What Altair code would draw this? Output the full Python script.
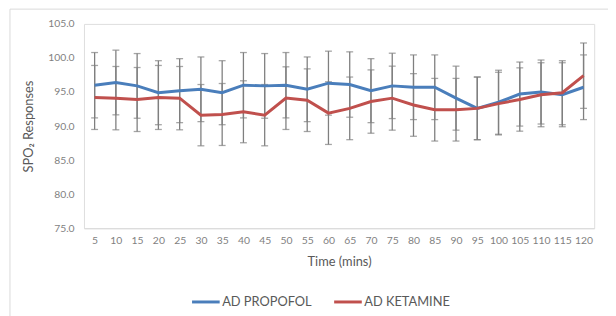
import altair as alt
import pandas as pd

times = [5, 10, 15, 20, 25, 30, 35, 40, 45, 50, 55, 60, 65, 70, 75, 80, 85, 90, 95, 100, 105, 110, 115, 120]
propofol = [96.0, 96.4, 95.9, 94.9, 95.2, 95.4, 94.9, 96.0, 95.9, 96.0, 95.4, 96.3, 96.1, 95.2, 95.9, 95.7,
            95.7, 94.1, 92.6, 93.5, 94.7, 95.0, 94.6, 95.7]
propofol_sd = [4.8, 4.75, 4.75, 4.7, 4.7, 4.75, 4.7, 4.8, 4.75, 4.8, 4.75, 4.7, 4.8, 4.7, 4.8, 4.75,
               4.75, 4.7, 4.6, 4.7, 4.7, 4.7, 4.7, 4.75]
ketamine = [94.2, 94.1, 93.9, 94.2, 94.1, 91.6, 91.7, 92.1, 91.6, 94.1, 93.8, 91.9, 92.6, 93.6, 94.1, 93.1,
            92.4, 92.4, 92.6, 93.3, 93.9, 94.6, 94.9, 97.4]
ketamine_sd = [4.7, 4.65, 4.7, 4.7, 4.65, 4.5, 4.55, 4.55, 4.5, 4.6, 4.6, 4.6, 4.6, 4.65, 4.7, 4.6,
               4.6, 4.6, 4.6, 4.6, 4.65, 4.7, 4.7, 4.8]
series_names = ["AD PROPOFOL", "AD KETAMINE"]
series_colors = ["#4a7ebb", "#c0504d"]
y_ticks = [75, 80, 85, 90, 95, 100, 105]

rows = []
for name, vals, sds in [(series_names[0], propofol, propofol_sd), (series_names[1], ketamine, ketamine_sd)]:
    for t, v, s in zip(times, vals, sds):
        rows.append({"time": t, "value": v, "sd": s, "series": name})
df = pd.DataFrame(rows)

W, H = 517, 207
FONT = "Lato"
GRAY = "#7f7f7f"
LABEL = "#7f7f7f"
TITLE = "#595959"

xscale = alt.Scale(domain=[2.5, 122.5], nice=False, zero=False)
yscale = alt.Scale(domain=[75, 105], nice=False, zero=False)

xaxis = alt.Axis(values=times, format="d", grid=False, ticks=False, domain=True,
                 domainColor="#d9d9d9", labelColor=LABEL, labelFont=FONT,
                 labelFontSize=10.5, labelPadding=8, labelOverlap=False, labelFlush=False,
                 labelBound=False, titleFont=FONT, titleFontSize=13,
                 titleColor=TITLE, titleFontWeight="normal", titlePadding=9)
yaxis = alt.Axis(values=y_ticks, format=".1f", grid=False, ticks=False, domain=False,
                 labelColor=LABEL, labelFont=FONT, labelFontSize=10.5, labelPadding=10,
                 labelOverlap=False, labelFlush=False, labelBound=False,
                 titleFont=FONT, titleFontSize=13, titleColor=TITLE,
                 titleFontWeight="normal", titlePadding=12)
XT = "Time (mins)"
YT = "SPO₂ Responses"

base = alt.Chart(df).transform_calculate(
    lo="datum.value - datum.sd", hi="datum.value + datum.sd"
)

rules = base.mark_rule(color=GRAY, strokeWidth=1.3).encode(
    x=alt.X("time:Q", scale=xscale, axis=xaxis, title=XT),
    y=alt.Y("lo:Q", scale=yscale, axis=yaxis, title=YT),
    y2="hi:Q",
)
caps_lo = base.mark_tick(color=GRAY, thickness=1.3, size=7, orient="horizontal").encode(
    x=alt.X("time:Q", scale=xscale, axis=xaxis, title=XT),
    y=alt.Y("lo:Q", scale=yscale, axis=yaxis, title=YT))
caps_hi = base.mark_tick(color=GRAY, thickness=1.3, size=7, orient="horizontal").encode(
    x=alt.X("time:Q", scale=xscale, axis=xaxis, title=XT),
    y=alt.Y("hi:Q", scale=yscale, axis=yaxis, title=YT))

lines = base.mark_line(strokeWidth=3).encode(
    x=alt.X("time:Q", scale=xscale, axis=xaxis, title=XT),
    y=alt.Y("value:Q", scale=yscale, axis=yaxis, title=YT),
    color=alt.Color("series:N", scale=alt.Scale(domain=series_names, range=series_colors),
                    sort=series_names,
                    legend=alt.Legend(title=None, orient="none", direction="horizontal",
                                      legendX=108, legendY=266, symbolType="stroke",
                                      symbolSize=784, symbolStrokeWidth=3, labelFont=FONT,
                                      labelFontSize=13, labelColor=TITLE, labelOffset=1,
                                      columnPadding=16)),
    order="time:Q",
)

border = alt.Chart(pd.DataFrame({"a": [0]})).mark_rect(
    fill=None, stroke="#d9d9d9", strokeWidth=1
).encode(x=alt.value(-75), x2=alt.value(W + 60), y=alt.value(-15), y2=alt.value(H + 120))

chart = alt.layer(border, rules, caps_lo, caps_hi, lines).properties(
    width=W, height=H,
    autosize=alt.AutoSizeParams(type="none"),
    padding={"left": 77, "top": 14, "right": 14, "bottom": 100},
).configure_view(stroke=None).configure_axis(labelOverlap=False).configure(background="white")

chart.save("out.html", embed_options={"renderer": "svg", "actions": False})
